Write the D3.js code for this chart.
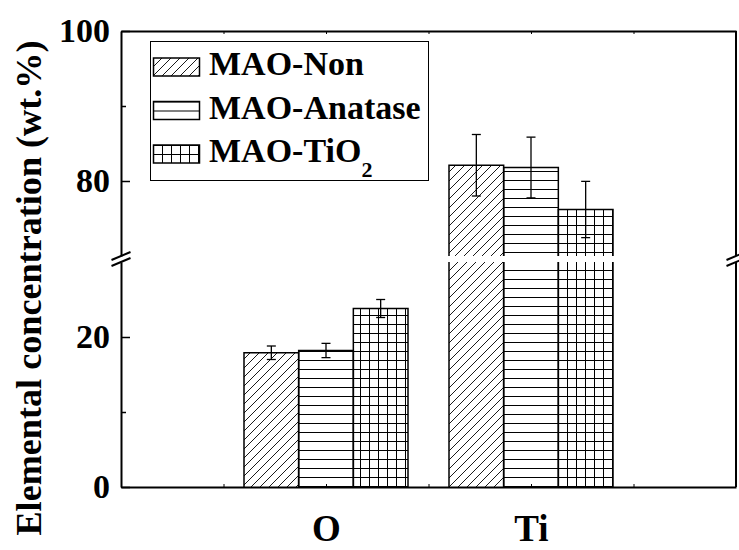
<!DOCTYPE html>
<html>
<head>
<meta charset="utf-8">
<script src="https://cdn.jsdelivr.net/npm/d3@7"></script>
<style>
  body { margin: 0; background: #fff; }
  svg { display: block; font-family: "Liberation Serif", "Times New Roman", serif; font-weight: bold; }
</style>
</head>
<body>
<svg id="chart" width="739" height="550"></svg>
<script>
// ── Data ──────────────────────────────────────────────────────────────────────
const elements = ["O", "Ti"];
const samples = ["MAO-Non", "MAO-Anatase", "MAO-TiO2"];
const values = {
  "MAO-Non":     [17.9, 82.1],
  "MAO-Anatase": [18.2, 81.8],
  "MAO-TiO2":    [23.8, 76.2],
};
const errors = {
  "MAO-Non":     [0.9, 4.1],
  "MAO-Anatase": [0.95, 4.05],
  "MAO-TiO2":    [1.2, 3.75],
};
const lowerDomain = [0, 30];
const upperDomain = [70, 100];
const majorTicks = [0, 20, 80, 100];
const minorTicks = [10, 90];
const xTicks = [0.5, 1, 1.5, 2, 2.5];

// ── Layout ────────────────────────────────────────────────────────────────────
const mLeft = 121, mRight = 736, mTop = 31, mBottom = 487;
const serif = '"Liberation Serif", "Times New Roman", serif';
const svg = d3.select("#chart");

const x = d3.scaleLinear().domain([0, 3]).range([mLeft, mRight]);
const yLow = d3.scaleLinear().domain(lowerDomain).range([mBottom, 262]);
const yHigh = d3.scaleLinear().domain(upperDomain).range([256, mTop]);
const segments = [yLow, yHigh];

// ── Hatch patterns ────────────────────────────────────────────────────────────
const defs = svg.append("defs");
const step = 9;
const pDiag = defs.append("pattern").attr("id", "p-diag")
  .attr("patternUnits", "userSpaceOnUse").attr("width", step).attr("height", step);
pDiag.append("path")
  .attr("d", `M0,${step} L${step},0 M-2,2 L2,-2 M${step - 2},${step + 2} L${step + 2},${step - 2}`)
  .attr("stroke", "#000").attr("stroke-width", 0.9);

const pHoriz = defs.append("pattern").attr("id", "p-horiz")
  .attr("patternUnits", "userSpaceOnUse").attr("width", step).attr("height", step);
pHoriz.append("path").attr("d", `M0,0.5 H${step}`).attr("stroke", "#000").attr("stroke-width", 1);

const pGrid = defs.append("pattern").attr("id", "p-grid")
  .attr("patternUnits", "userSpaceOnUse").attr("width", step).attr("height", step);
pGrid.append("path").attr("d", `M0,0.5 H${step} M0.5,0 V${step}`).attr("stroke", "#000").attr("stroke-width", 1);

const fills = { "MAO-Non": "url(#p-diag)", "MAO-Anatase": "url(#p-horiz)", "MAO-TiO2": "url(#p-grid)" };

segments.forEach((y, i) => {
  defs.append("clipPath").attr("id", "clip" + i)
    .append("rect")
    .attr("x", mLeft).attr("width", mRight - mLeft)
    .attr("y", y.range()[1]).attr("height", y.range()[0] - y.range()[1]);
});

// ── Bars ──────────────────────────────────────────────────────────────────────
const groupWidth = 0.8;
const xInner = d3.scaleBand().domain(samples).range([-groupWidth / 2, groupWidth / 2]);
const bw = x(xInner.bandwidth()) - x(0);

const barData = [];
elements.forEach((el, ei) => {
  samples.forEach((s) => {
    barData.push({ el, s, cx: ei + 1, v: values[s][ei], e: errors[s][ei] });
  });
});

segments.forEach((y, i) => {
  const g = svg.append("g").attr("clip-path", `url(#clip${i})`);
  g.selectAll("rect").data(barData).join("rect")
    .attr("x", (d) => x(d.cx + xInner(d.s)))
    .attr("width", bw)
    .attr("y", (d) => y(d.v))
    .attr("height", (d) => Math.max(0, y(y.domain()[0]) - y(d.v) + 5))
    .attr("fill", (d) => fills[d.s])
    .attr("stroke", "#000").attr("stroke-width", 1.5);

  // error bars
  const eb = g.selectAll("g.err").data(barData).join("g").attr("class", "err")
    .attr("stroke", "#000").attr("stroke-width", 1.3);
  const cxp = (d) => x(d.cx + xInner(d.s)) + bw / 2;
  eb.append("line").attr("x1", cxp).attr("x2", cxp)
    .attr("y1", (d) => y(d.v + d.e)).attr("y2", (d) => y(d.v - d.e));
  eb.append("line").attr("x1", (d) => cxp(d) - 4.5).attr("x2", (d) => cxp(d) + 4.5)
    .attr("y1", (d) => y(d.v + d.e)).attr("y2", (d) => y(d.v + d.e));
  eb.append("line").attr("x1", (d) => cxp(d) - 4.5).attr("x2", (d) => cxp(d) + 4.5)
    .attr("y1", (d) => y(d.v - d.e)).attr("y2", (d) => y(d.v - d.e));
});

// ── Axes ──────────────────────────────────────────────────────────────────────
const tickFont = "34px";
segments.forEach((y) => {
  const inDomain = (t) => t >= y.domain()[0] && t <= y.domain()[1];
  const gMajor = svg.append("g").attr("transform", `translate(${mLeft},0)`)
    .call(d3.axisLeft(y).tickValues(majorTicks.filter(inDomain)).tickSizeInner(-9).tickSizeOuter(0).tickPadding(11))
    .attr("font-family", serif).attr("font-size", tickFont);
  gMajor.select(".domain").attr("stroke-width", 2);
  gMajor.selectAll(".tick line").attr("stroke-width", 1.5);
  gMajor.selectAll(".tick text").attr("fill", "#000");

  const gMinor = svg.append("g").attr("transform", `translate(${mLeft},0)`)
    .call(d3.axisLeft(y).tickValues(minorTicks.filter(inDomain)).tickSizeInner(-5).tickSizeOuter(0).tickFormat(""));
  gMinor.select(".domain").remove();
  gMinor.selectAll(".tick line").attr("stroke-width", 1.5);

  // right frame line
  svg.append("line").attr("x1", mRight).attr("x2", mRight)
    .attr("y1", y.range()[0]).attr("y2", y.range()[1])
    .attr("stroke", "#000").attr("stroke-width", 2);
});

// break marks
[mLeft, mRight].forEach((bx) => {
  [yHigh.range()[0], yLow.range()[1]].forEach((by) => {
    svg.append("line")
      .attr("x1", bx - 9.5).attr("y1", by + 4)
      .attr("x2", bx + 9.5).attr("y2", by - 4)
      .attr("stroke", "#000").attr("stroke-width", 2);
  });
});

const gx = svg.append("g").attr("transform", `translate(0,${mBottom})`)
  .call(d3.axisBottom(x).tickValues(xTicks).tickSizeInner(-3).tickSizeOuter(0).tickPadding(28)
    .tickFormat((d) => (Number.isInteger(d) ? elements[d - 1] : "")))
  .attr("font-family", serif).attr("font-size", "37px");
gx.select(".domain").attr("stroke-width", 2);
gx.selectAll(".tick text").attr("fill", "#000");

const gTop = svg.append("g").attr("transform", `translate(0,${mTop})`)
  .call(d3.axisTop(x).tickValues(xTicks).tickSizeInner(-3).tickSizeOuter(0).tickFormat(""));
gTop.select(".domain").attr("stroke-width", 2);

// y-axis title
svg.append("text")
  .attr("transform", `translate(41,288) rotate(-90)`)
  .attr("text-anchor", "middle")
  .attr("font-size", "36px")
  .attr("textLength", 495)
  .attr("lengthAdjust", "spacingAndGlyphs")
  .text("Elemental concentration (wt.%)");

// ── Legend ────────────────────────────────────────────────────────────────────
const legend = svg.append("g");
legend.append("rect")
  .attr("x", 150.5).attr("y", 41.5).attr("width", 278).attr("height", 139)
  .attr("fill", "#fff").attr("stroke", "#000").attr("stroke-width", 1);

const rowY = d3.scalePoint().domain(samples).range([67, 154]);
const rows = legend.selectAll("g.row").data(samples).join("g").attr("class", "row")
  .attr("transform", (d) => `translate(0,${rowY(d)})`);
rows.append("rect")
  .attr("x", 153.5).attr("y", -9).attr("width", 46).attr("height", 18)
  .attr("fill", (d) => fills[d]).attr("stroke", "#000").attr("stroke-width", 1.5);
const lt = rows.append("text")
  .attr("x", 209).attr("y", 8)
  .attr("font-size", "34px");
lt.each(function (d) {
  const t = d3.select(this);
  if (d === "MAO-TiO2") {
    t.append("tspan").text("MAO-TiO");
    t.append("tspan").attr("font-size", "22px").attr("dy", 15).text("2");
  } else {
    t.text(d);
  }
});
</script>
</body>
</html>
